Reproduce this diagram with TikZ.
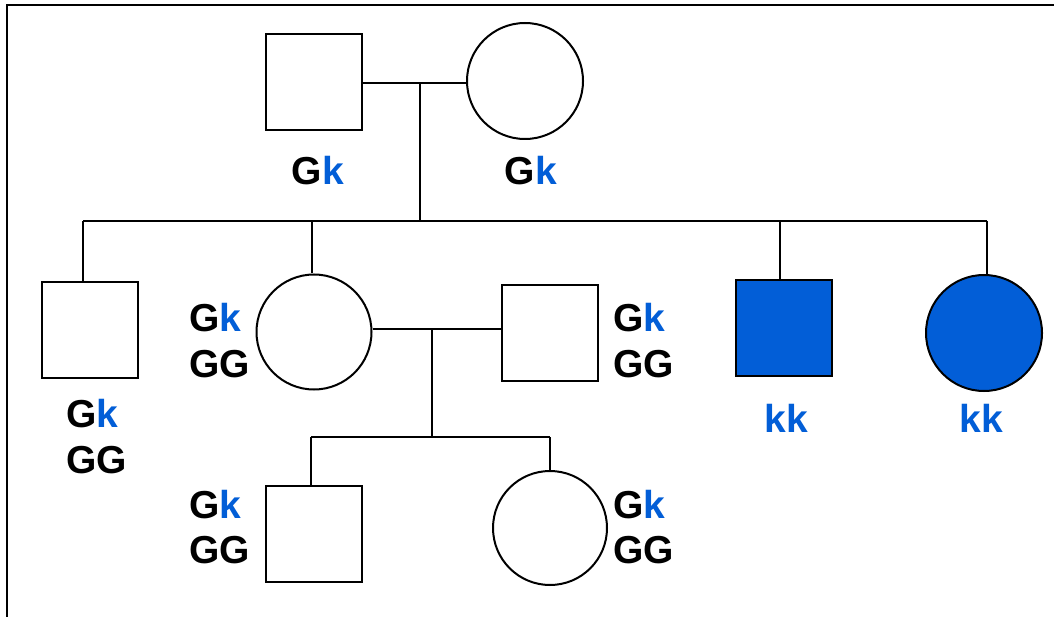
\documentclass[tikz,border=0pt]{standalone}
\usepackage{fontspec}
\setmainfont{Liberation Sans}
\definecolor{kblue}{RGB}{2,94,215}
\tikzset{
  line/.style={line width=2pt, black},
  male/.style={draw, line width=2pt, rectangle, minimum size=96pt, inner sep=0pt},
  female/.style={draw, line width=2pt, circle, inner sep=0pt},
  affected/.style={fill=kblue},
  geno/.style={inner sep=0pt, font=\fontsize{39}{39}\selectfont\bfseries},
}
\newcommand{\kb}{\textcolor{kblue}{k}}
\begin{document}
\begin{tikzpicture}[x=1pt,y=-1pt]
\useasboundingbox (0,0) rectangle (1054,617);
\fill[white] (0,0) rectangle (1054,617);
% frame
\draw[line width=2.6pt] (7,617) -- (7,5) -- (1054,5);

% generation I
\node[male] (f) at (314,82) {};
\node[female, minimum size=116pt] (m) at (525,81) {};
\coordinate (mj) at (420,83);
\draw[line] (f.east |- mj) -- (m.west |- mj);
\coordinate (sj) at (420,221);
\draw[line] (mj) -- (sj);
\node[geno, anchor=base] (lf) at (318,185) {G\kb};
\node[geno, anchor=base] (lm) at (531,185) {G\kb};

% sibship line
\coordinate (sl) at (83,221);
\coordinate (sr) at (987,221);
\draw[line] (sl) -- (sr);

% generation II
\node[male] (c1) at (90,330) {};
\draw[line] (sl) -- (sl |- c1.north);
\node[geno, anchor=base west] (lc1a) at (66,427) {G\kb};
\node[geno, anchor=base west] (lc1b) at (66,473) {GG};

\node[female, minimum size=115pt] (d) at (314,332) {};
\coordinate (dj) at (312,221);
\draw[line] (dj) -- (dj |- d.north);
\node[geno, anchor=base west] (lda) at (189,331) {G\kb};
\node[geno, anchor=base west] (ldb) at (189,377) {GG};

\node[male] (sp) at (550,333) {};
\coordinate (mj2) at (432,329);
\draw[line] (d.east |- mj2) -- (sp.west |- mj2);
\node[geno, anchor=base west] (lspa) at (613,331) {G\kb};
\node[geno, anchor=base west] (lspb) at (613,377) {GG};

\node[male, affected] (as) at (784,328) {};
\coordinate (asj) at (780,221);
\draw[line] (asj) -- (asj |- as.north);
\node[geno, anchor=base, text=kblue] (las) at (786,432) {kk};

\node[female, affected, minimum size=116pt] (ad) at (984,333) {};
\draw[line] (sr) -- (sr |- ad.north);
\node[geno, anchor=base, text=kblue] (lad) at (981,432) {kk};

% generation III
\coordinate (gj) at (432,437);
\draw[line] (mj2) -- (gj);
\coordinate (gl) at (311,437);
\coordinate (gr) at (550,437);
\draw[line] (gl) -- (gr);

\node[male] (gs) at (314,534) {};
\draw[line] (gl) -- (gl |- gs.north);
\node[geno, anchor=base west] (lgsa) at (189,518) {G\kb};
\node[geno, anchor=base west] (lgsb) at (189,563) {GG};

\node[female, minimum size=114pt] (gd) at (550,528) {};
\draw[line] (gr) -- (gd.north);
\node[geno, anchor=base west] (lgda) at (613,518) {G\kb};
\node[geno, anchor=base west] (lgdb) at (613,563) {GG};
\end{tikzpicture}
\end{document}
